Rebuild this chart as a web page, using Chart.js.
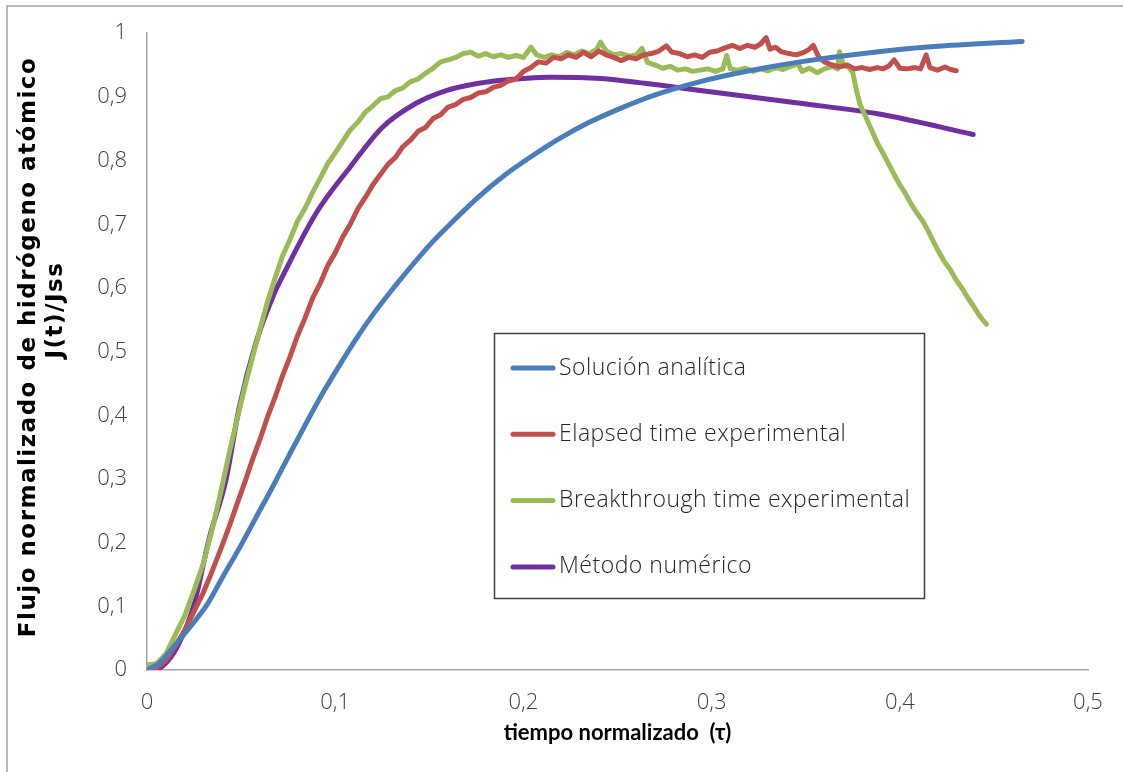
<!DOCTYPE html>
<html>
<head>
<meta charset="utf-8">
<script src="https://cdn.jsdelivr.net/npm/chart.js@4"></script>
<style>
  html, body { margin: 0; padding: 0; background: #fff; }
</style>
</head>
<body>
<canvas id="flujo" width="1123" height="772"></canvas>
<script>
// Solución analítica
const analyticTau = [0, 0.007, 0.014, 0.023, 0.032, 0.040, 0.049, 0.058, 0.067, 0.076,
  0.085, 0.094, 0.103, 0.112, 0.121, 0.131, 0.141, 0.151, 0.161, 0.175,
  0.190, 0.205, 0.220, 0.235, 0.250, 0.270, 0.294, 0.320, 0.347, 0.383,
  0.418, 0.465];
const analyticJ = [0, 0.012, 0.036, 0.068, 0.103, 0.145, 0.191, 0.240, 0.289, 0.340,
  0.390, 0.438, 0.482, 0.524, 0.562, 0.600, 0.636, 0.670, 0.700, 0.740,
  0.777, 0.808, 0.836, 0.860, 0.880, 0.903, 0.924, 0.941, 0.955, 0.969,
  0.979, 0.987];

// Elapsed time experimental
const elapsedTau = [0, 0.005, 0.010, 0.015, 0.020, 0.025, 0.030, 0.035, 0.040, 0.044,
  0.048, 0.052, 0.056, 0.060, 0.064, 0.068, 0.072, 0.076, 0.080, 0.084,
  0.088, 0.092, 0.096, 0.100, 0.104, 0.108, 0.112, 0.116, 0.120, 0.124,
  0.128, 0.132, 0.136, 0.140, 0.144, 0.148, 0.152, 0.156, 0.160, 0.164,
  0.168, 0.172, 0.176, 0.180, 0.184, 0.188, 0.192, 0.196, 0.200, 0.204,
  0.208, 0.212, 0.216, 0.220, 0.224, 0.228, 0.232, 0.236, 0.240, 0.244,
  0.248, 0.252, 0.256, 0.260, 0.264, 0.268, 0.272, 0.276, 0.279, 0.283,
  0.287, 0.291, 0.295, 0.299, 0.303, 0.307, 0.311, 0.315, 0.319, 0.323,
  0.326, 0.329, 0.331, 0.334, 0.337, 0.341, 0.345, 0.349, 0.352, 0.354,
  0.357, 0.360, 0.364, 0.368, 0.372, 0.376, 0.380, 0.384, 0.388, 0.391,
  0.394, 0.397, 0.400, 0.404, 0.408, 0.411, 0.414, 0.416, 0.420, 0.424,
  0.427, 0.430];
const elapsedJ = [0, 0.003, 0.015, 0.038, 0.062, 0.092, 0.122, 0.158, 0.196, 0.228,
  0.262, 0.295, 0.330, 0.362, 0.397, 0.428, 0.462, 0.492, 0.525, 0.553,
  0.584, 0.607, 0.635, 0.655, 0.680, 0.700, 0.724, 0.742, 0.762, 0.778,
  0.794, 0.805, 0.822, 0.832, 0.846, 0.852, 0.866, 0.872, 0.884, 0.888,
  0.896, 0.899, 0.906, 0.908, 0.915, 0.918, 0.925, 0.928, 0.940, 0.946,
  0.955, 0.953, 0.962, 0.960, 0.966, 0.962, 0.970, 0.963, 0.972, 0.966,
  0.962, 0.957, 0.962, 0.960, 0.966, 0.968, 0.972, 0.980, 0.970, 0.968,
  0.963, 0.966, 0.962, 0.970, 0.972, 0.977, 0.981, 0.976, 0.981, 0.978,
  0.983, 0.993, 0.975, 0.978, 0.971, 0.968, 0.966, 0.970, 0.975, 0.981,
  0.962, 0.955, 0.950, 0.947, 0.950, 0.944, 0.946, 0.943, 0.946, 0.944,
  0.948, 0.958, 0.945, 0.944, 0.946, 0.944, 0.966, 0.946, 0.942, 0.947,
  0.943, 0.941];

// Breakthrough time experimental
const breakTau = [0, 0.005, 0.010, 0.015, 0.020, 0.025, 0.030, 0.035, 0.040, 0.044,
  0.048, 0.052, 0.056, 0.060, 0.064, 0.068, 0.072, 0.076, 0.080, 0.084,
  0.088, 0.092, 0.096, 0.100, 0.104, 0.108, 0.112, 0.116, 0.120, 0.124,
  0.128, 0.132, 0.136, 0.140, 0.144, 0.148, 0.152, 0.156, 0.160, 0.164,
  0.168, 0.172, 0.176, 0.180, 0.184, 0.188, 0.192, 0.196, 0.200, 0.204,
  0.207, 0.211, 0.215, 0.219, 0.223, 0.227, 0.231, 0.235, 0.239, 0.241,
  0.244, 0.248, 0.252, 0.256, 0.260, 0.263, 0.266, 0.270, 0.274, 0.278,
  0.282, 0.286, 0.290, 0.294, 0.298, 0.302, 0.306, 0.308, 0.310, 0.314,
  0.318, 0.322, 0.326, 0.330, 0.334, 0.338, 0.342, 0.346, 0.348, 0.352,
  0.356, 0.360, 0.364, 0.367, 0.368, 0.370, 0.373, 0.375, 0.377, 0.379,
  0.382, 0.385, 0.388, 0.391, 0.394, 0.397, 0.400, 0.403, 0.406, 0.409,
  0.412, 0.415, 0.418, 0.421, 0.424, 0.427, 0.430, 0.433, 0.436, 0.439,
  0.442, 0.444, 0.446];
const breakJ = [0.008, 0.010, 0.025, 0.055, 0.085, 0.125, 0.168, 0.225, 0.290, 0.345,
  0.395, 0.445, 0.490, 0.535, 0.578, 0.615, 0.650, 0.676, 0.705, 0.725,
  0.750, 0.772, 0.795, 0.812, 0.830, 0.848, 0.860, 0.876, 0.886, 0.897,
  0.900, 0.910, 0.914, 0.924, 0.928, 0.937, 0.945, 0.955, 0.958, 0.962,
  0.968, 0.970, 0.964, 0.968, 0.963, 0.966, 0.962, 0.965, 0.962, 0.978,
  0.966, 0.962, 0.966, 0.963, 0.970, 0.966, 0.972, 0.968, 0.975, 0.986,
  0.972, 0.966, 0.968, 0.964, 0.966, 0.976, 0.954, 0.950, 0.945, 0.948,
  0.942, 0.944, 0.940, 0.942, 0.944, 0.940, 0.944, 0.965, 0.944, 0.942,
  0.945, 0.940, 0.944, 0.941, 0.946, 0.943, 0.948, 0.952, 0.940, 0.945,
  0.938, 0.944, 0.948, 0.944, 0.971, 0.950, 0.946, 0.938, 0.910, 0.887,
  0.868, 0.848, 0.828, 0.812, 0.795, 0.778, 0.762, 0.748, 0.732, 0.718,
  0.706, 0.690, 0.672, 0.655, 0.640, 0.628, 0.612, 0.600, 0.585, 0.572,
  0.558, 0.550, 0.543];

// Método numérico
const numericTau = [0, 0.005, 0.009, 0.016, 0.025, 0.033, 0.042, 0.049, 0.058, 0.067,
  0.072, 0.090, 0.108, 0.125, 0.143, 0.159, 0.172, 0.188, 0.200, 0.214,
  0.241, 0.276, 0.294, 0.347, 0.389, 0.439];
const numericJ = [0.002, 0.002, 0.008, 0.036, 0.103, 0.206, 0.299, 0.412, 0.515, 0.587,
  0.618, 0.718, 0.790, 0.852, 0.890, 0.910, 0.919, 0.926, 0.929, 0.931,
  0.929, 0.917, 0.910, 0.890, 0.873, 0.841];

const xTicks = [0, 0.1, 0.2, 0.3, 0.4, 0.5];
const yTitle = ["Flujo normalizado de hidrógeno atómico", "J(t)/Jss"];
const xTitle = "tiempo normalizado  (τ)";

function pairs(xs, ys) {
  return xs.map((x, i) => ({ x: x, y: ys[i] }));
}

function comma(v) {
  return String(Number(v.toFixed(1))).replace(".", ",");
}

function series(label, xs, ys, color, smooth) {
  return {
    label: label,
    data: pairs(xs, ys),
    showLine: true,
    borderColor: color,
    backgroundColor: color,
    borderWidth: 5,
    borderCapStyle: "round",
    borderJoinStyle: "round",
    pointRadius: 0,
    pointHoverRadius: 0,
    cubicInterpolationMode: smooth ? "monotone" : "default",
    tension: 0,
  };
}

const tickFont = { family: "'Open Sans'", size: 22, weight: "300" };

// outer frame of the chart
const framePlugin = {
  id: "frame",
  beforeDraw(chart) {
    const ctx = chart.ctx;
    ctx.save();
    ctx.fillStyle = "#ffffff";
    ctx.fillRect(0, 0, chart.width, chart.height);
    ctx.strokeStyle = "#a6a6a6";
    ctx.lineWidth = 1.5;
    ctx.strokeRect(7, 6, chart.width + 20, chart.height + 20);
    ctx.restore();
  },
};

// two line vertical title on the left
const yTitlePlugin = {
  id: "yTitle",
  afterDraw(chart) {
    const ctx = chart.ctx;
    const lines = [[35, 347], [62, 310]];
    lines.forEach(([x, y], i) => {
      ctx.save();
      ctx.fillStyle = "#000000";
      ctx.font = "bold 23px 'DejaVu Sans'";
      ctx.letterSpacing = "1.5px";
      ctx.textAlign = "center";
      ctx.textBaseline = "alphabetic";
      ctx.translate(x, y);
      ctx.rotate(-Math.PI / 2);
      ctx.fillText(yTitle[i], 0, 0);
      ctx.restore();
    });
  },
};

// boxed legend inside the plot
const boxLegendPlugin = {
  id: "boxLegend",
  afterDraw(chart) {
    const ctx = chart.ctx;
    const left = 494, top = 333, w = 430, h = 265;
    ctx.save();
    ctx.strokeStyle = "#404040";
    ctx.lineWidth = 1.5;
    ctx.strokeRect(left + 0.5, top + 0.5, w, h);
    ctx.font = "300 23px 'Open Sans'";
    ctx.letterSpacing = "0.5px";
    ctx.textBaseline = "middle";
    ctx.textAlign = "left";
    chart.data.datasets.forEach((ds, i) => {
      const y = 368 + i * 66.3;
      ctx.strokeStyle = ds.borderColor;
      ctx.lineWidth = 5;
      ctx.lineCap = "round";
      ctx.beginPath();
      ctx.moveTo(513, y);
      ctx.lineTo(553, y);
      ctx.stroke();
      ctx.fillStyle = "#262626";
      ctx.fillText(ds.label, 559, y);
    });
    ctx.restore();
  },
};

new Chart(document.getElementById("flujo"), {
  type: "scatter",
  data: {
    datasets: [
      series("Solución analítica", analyticTau, analyticJ, "#4a7ebb", true),
      series("Elapsed time experimental", elapsedTau, elapsedJ, "#c0504d", false),
      series("Breakthrough time experimental", breakTau, breakJ, "#9bbb59", false),
      series("Método numérico", numericTau, numericJ, "#7030a0", true),
    ],
  },
  options: {
    responsive: false,
    animation: false,
    events: [],
    layout: { padding: { left: 0, top: 23, right: 35, bottom: 0 } },
    plugins: {
      legend: { display: false },
      tooltip: { enabled: false },
    },
    scales: {
      x: {
        type: "linear",
        min: 0,
        max: 0.5,
        afterFit(scale) { scale.height = 102; },
        afterBuildTicks(scale) { scale.ticks = xTicks.map(v => ({ value: v })); },
        grid: { display: false, drawTicks: false },
        border: { display: true, color: "#a6a6a6", width: 1.5 },
        ticks: {
          padding: 20,
          color: "#404040",
          font: tickFont,
          callback: v => comma(v),
        },
        title: {
          display: true,
          text: xTitle,
          color: "#000000",
          font: { family: "Lato", size: 22, weight: "bold" },
          padding: { top: 0, bottom: 26 },
        },
      },
      y: {
        type: "linear",
        min: 0,
        max: 1,
        afterFit(scale) { scale.width = 147; },
        grid: { display: false, drawTicks: false },
        border: { display: true, color: "#a6a6a6", width: 1.5 },
        ticks: {
          stepSize: 0.1,
          padding: 20,
          color: "#404040",
          font: tickFont,
          callback: v => comma(v),
        },
      },
    },
  },
  plugins: [framePlugin, yTitlePlugin, boxLegendPlugin],
});
</script>
</body>
</html>
